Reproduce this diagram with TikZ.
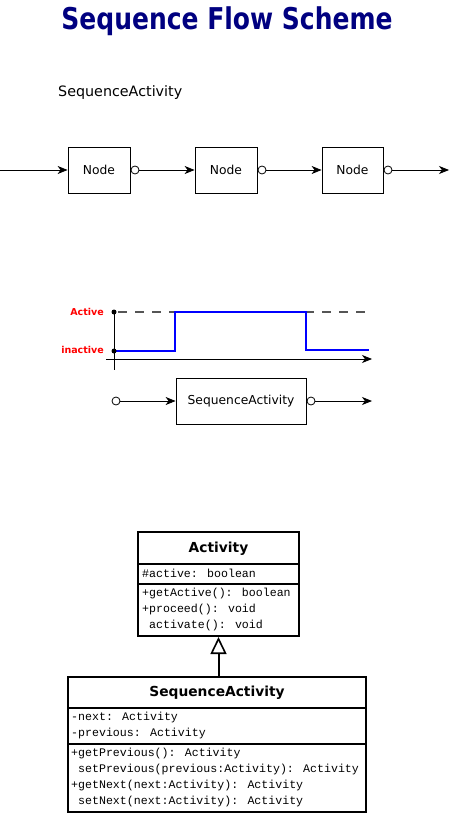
\documentclass[tikz,border=0pt]{standalone}
\usepackage{fontspec}
\setmainfont{DejaVu Sans}
\newfontfamily\monof{Liberation Mono}
\usetikzlibrary{arrows.meta}
\definecolor{navy}{RGB}{0,0,128}
\definecolor{dashgray}{RGB}{85,85,85}
\begin{document}
\begin{tikzpicture}[x=1pt,y=-1pt,
  box/.style={draw,line width=0.8pt,minimum height=46pt,inner sep=0pt,font=\fontsize{12.3}{14}\selectfont},
  flow/.style={line width=0.8pt,-{Stealth[length=10pt,width=8pt,inset=3pt]}},
  port/.style={circle,draw,fill=white,line width=0.8pt,minimum size=8pt,inner sep=0pt},
  dot/.style={circle,fill=black,minimum size=5pt,inner sep=0pt},
  lvl/.style={text=red,font=\bfseries\fontsize{9.5}{10}\selectfont,anchor=east,inner sep=0pt},
  umlbox/.style={draw,line width=2pt,inner sep=0pt},
  umltitle/.style={font=\bfseries\fontsize{13.8}{15}\selectfont,inner sep=0pt},
  member/.style={font=\monof\fontsize{11.6}{14}\selectfont,anchor=west,inner sep=0pt},
  sep/.style={line width=1.2pt}
]
\useasboundingbox (0,0) rectangle (451,813);

% title
\node[text=navy,font=\bfseries\fontsize{25}{30}\selectfont] (title) at (227,21) {\scalebox{1}[1.2]{Sequence Flow Scheme}};
\node[font=\fontsize{14.3}{16}\selectfont,anchor=west,inner sep=0pt] (lab) at (58,93) {SequenceActivity};

% chain of nodes
\coordinate (in) at (0,170);
\coordinate (out) at (449,170);
\node[box,minimum width=62pt] (b1) at (99,170) {Node};
\node[box,minimum width=62pt] (b2) at (226,170) {Node};
\node[box,minimum width=61pt] (b3) at (352.5,170) {Node};
\node[port] (p1) at (135,170) {};
\node[port] (p2) at (262,170) {};
\node[port] (p3) at (388,170) {};
\draw[flow] (in) -- (b1.west);
\draw[flow] (p1.east) -- (b2.west);
\draw[flow] (p2.east) -- (b3.west);
\draw[flow] (p3.east) -- (out);

% timing chart
\coordinate (vtop) at (114,312);
\coordinate (vbot) at (114,370);
\coordinate (hax0) at (106,359);
\coordinate (hax1) at (372,359);
\coordinate (dend) at (368,312);
\draw[line width=0.8pt] (vtop) -- (vbot);
\draw[flow] (hax0) -- (hax1);
\draw[dashgray,line width=1.2pt,dash pattern=on 9pt off 8pt,dash phase=-4pt] (vtop) -- (dend);
\coordinate (s0) at (114,351);
\coordinate (s1) at (175,351);
\coordinate (s2) at (175,312);
\coordinate (s3) at (305.5,312);
\coordinate (s4) at (305.5,350);
\coordinate (s5) at (369,350);
\draw[blue,line width=2pt] (s0) -- (s1) -- (s2) -- (s3) -- (s4) -- (s5);
\node[dot] (dA) at (vtop) {};
\node[dot] (dI) at (s0) {};
\node[lvl] (lA) at (104,312) {Active};
\node[lvl] (lI) at (104,350) {inactive};

% SequenceActivity block
\node[box,minimum width=130pt] (sa) at (241,401) {SequenceActivity};
\node[port] (sp1) at (116,401) {};
\node[port] (sp2) at (311,401) {};
\coordinate (saout) at (372,401);
\draw[flow] (sp1.east) -- (sa.west);
\draw[flow] (sp2.east) -- (saout);

% UML class Activity
\node[umlbox,minimum width=161pt,minimum height=104pt] (act) at (218.5,584) {};
\draw[sep] (act.west |- 0,564) -- (act.east |- 0,564);
\draw[sep] (act.west |- 0,584) -- (act.east |- 0,584);
\node[umltitle] (actt) at (218.5,549) {Activity};
\node[member] (a1) at (142,573) {\#active: boolean};
\node[member] (a2) at (142,593) {+getActive(): boolean};
\node[member] (a3) at (142,609) {+proceed(): void};
\node[member] (a4) at (142,625) {\hphantom{+}activate(): void};

% UML class SequenceActivity
\node[umlbox,minimum width=298pt,minimum height=135pt] (sact) at (217,744.5) {};
\draw[sep] (sact.west |- 0,708) -- (sact.east |- 0,708);
\draw[sep] (sact.west |- 0,744) -- (sact.east |- 0,744);
\node[umltitle] (sactt) at (217,693) {SequenceActivity};
\node[member] (s1m) at (71,717) {-next: Activity};
\node[member] (s2m) at (71,733) {-previous: Activity};
\node[member] (s3m) at (71,753) {+getPrevious(): Activity};
\node[member] (s4m) at (71,769) {\hphantom{+}setPrevious(previous:Activity): Activity};
\node[member] (s5m) at (71,785) {+getNext(next:Activity): Activity};
\node[member] (s6m) at (71,801) {\hphantom{+}setNext(next:Activity): Activity};

% inheritance
\draw[line width=2pt,-{Triangle[open,length=17pt,width=16pt,line width=1.6pt]}] (sact.north -| act.south) -- (act.south);
\end{tikzpicture}
\end{document}
